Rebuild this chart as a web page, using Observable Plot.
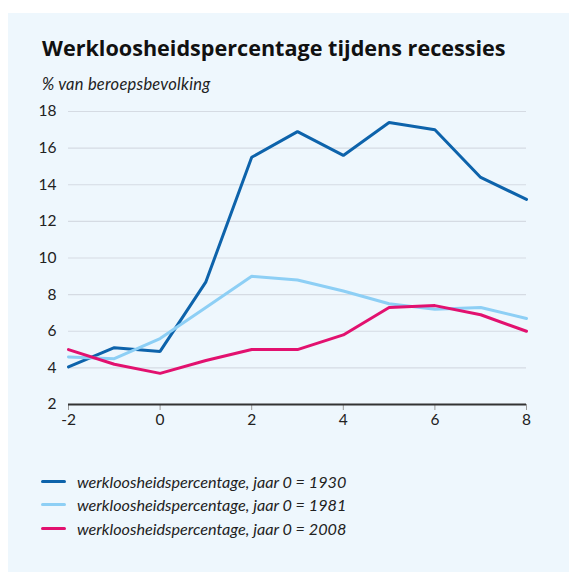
<!DOCTYPE html>
<html>
<head>
<meta charset="utf-8">
<script src="https://cdn.jsdelivr.net/npm/d3@7"></script>
<script src="https://cdn.jsdelivr.net/npm/@observablehq/plot@0.6"></script>
<style>
  html, body { margin: 0; padding: 0; background: #ffffff; }
  body { width: 569px; height: 572px; position: relative; overflow: hidden; font-family: "Open Sans", sans-serif; }
  #panel { position: absolute; left: 8px; top: 13px; width: 561px; height: 559px; background: #eef7fd; }
  #title { position: absolute; left: 42px; top: 33px; font-family: "Open Sans", sans-serif; font-weight: 700; font-size: 21.6px; color: #111; white-space: nowrap; }
  #subtitle { position: absolute; left: 42px; top: 74px; font-family: Lato, sans-serif; font-style: italic; font-size: 16.5px; letter-spacing: 0.25px; color: #222; white-space: nowrap; }
  #chart { position: absolute; left: 0; top: 95px; }
  #legend { position: absolute; left: 41px; top: 470px; font-family: Lato, sans-serif; font-style: italic; font-size: 16.2px; color: #222; }
  .item { display: flex; align-items: center; height: 23.3px; }
  .sw { width: 25px; height: 3px; border-radius: 1.5px; margin-right: 11px; }
</style>
</head>
<body>
<div id="panel"></div>
<div id="title">Werkloosheidspercentage tijdens recessies</div>
<div id="subtitle">% van beroepsbevolking</div>
<div id="chart"></div>
<div id="legend"></div>
<script>
const years = [-2, -1, 0, 1, 2, 3, 4, 5, 6, 7, 8];
const series1930 = [4.05, 5.1, 4.9, 8.7, 15.5, 16.9, 15.6, 17.4, 17.0, 14.4, 13.2];
const series1981 = [4.6, 4.5, 5.6, 7.3, 9.0, 8.8, 8.2, 7.5, 7.2, 7.3, 6.7];
const series2008 = [5.0, 4.2, 3.7, 4.4, 5.0, 5.0, 5.8, 7.3, 7.4, 6.9, 6.0];
const seriesNames = ["werkloosheidspercentage, jaar 0 = 1930", "werkloosheidspercentage, jaar 0 = 1981", "werkloosheidspercentage, jaar 0 = 2008"];
const seriesColors = ["#0d63ab", "#8dcff5", "#e2116f"];
const yTicks = [2, 4, 6, 8, 10, 12, 14, 16, 18];
const xTicks = [-2, 0, 2, 4, 6, 8];

const allSeries = [series1930, series1981, series2008];
const data = [];
allSeries.forEach((vals, i) => vals.forEach((v, j) => data.push({x: years[j], y: v, s: seriesNames[i]})));

const chart = Plot.plot({
  width: 569,
  height: 340,
  marginLeft: 68,
  marginRight: 43,
  marginTop: 16,
  marginBottom: 31,
  style: {background: "transparent", fontFamily: "Lato, sans-serif", fontSize: "15.5px", color: "#222"},
  x: {domain: [-2, 8], ticks: xTicks, label: null},
  y: {domain: [2, 18], ticks: yTicks, label: null},
  color: {domain: seriesNames, range: seriesColors},
  marks: [
    Plot.gridY(yTicks, {stroke: "#d5dbe3", strokeOpacity: 1, strokeWidth: 1.2}),
    Plot.axisY(yTicks, {tickSize: 0, tickPadding: 12, fontSize: 15.5, label: null, tickFormat: d => String(d)}),
    Plot.axisX(xTicks, {tickSize: 6, tickPadding: 3, stroke: "#999", fontSize: 15.5, label: null, tickFormat: d => String(d)}),
    Plot.ruleY([2], {stroke: "#333", strokeWidth: 2}),
    Plot.line(data, {x: "x", y: "y", z: "s", stroke: "s", strokeWidth: 3, strokeLinejoin: "miter"})
  ]
});
document.getElementById("chart").appendChild(chart);

const legend = document.getElementById("legend");
seriesNames.forEach((n, i) => {
  const it = document.createElement("div");
  it.className = "item";
  const sw = document.createElement("div");
  sw.className = "sw";
  sw.style.background = seriesColors[i];
  const t = document.createElement("span");
  t.textContent = n;
  it.appendChild(sw); it.appendChild(t);
  legend.appendChild(it);
});
</script>
</body>
</html>
